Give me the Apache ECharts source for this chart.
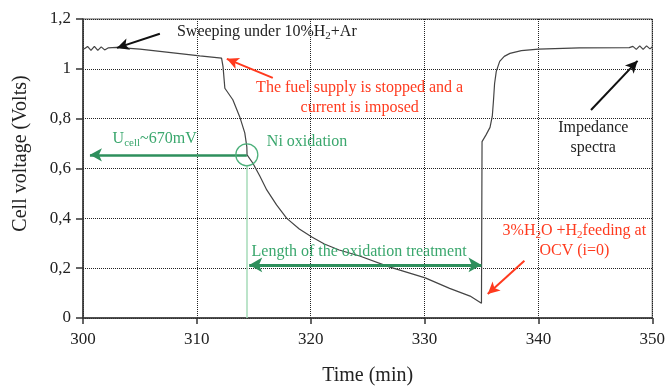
<!DOCTYPE html>
<html><head><meta charset="utf-8">
<script src="https://cdn.jsdelivr.net/npm/echarts@6/dist/echarts.min.js"></script>
<style>html,body{margin:0;padding:0;background:#fff}#c{width:668px;height:391px}</style>
</head><body><div id="c"></div>
<script>
// ---- data ----
const timeMin = [300.1,300.4,300.7,301.0,301.3,301.6,301.9,302.2,302.95,305.0,310.26,312.17,312.3,312.46,313.16,313.77,314.21,314.39,314.41,314.91,315.53,316.14,317.0,317.9,319.0,320.1,321.2,322.5,324.3,326.9,330.06,332.2,334.0,335.0,335.05,335.4,335.75,335.95,336.05,336.15,336.3,336.6,337.0,337.5,338.5,340.0,343.6,347.98,348.3,348.6,348.9,349.2,349.5,349.8,350.0];
const cellVoltage = [1.080,1.090,1.074,1.090,1.074,1.088,1.076,1.084,1.086,1.079,1.052,1.043,1.009,0.922,0.876,0.807,0.743,0.687,0.655,0.622,0.570,0.514,0.454,0.400,0.357,0.325,0.297,0.273,0.249,0.205,0.161,0.119,0.088,0.059,0.708,0.735,0.765,0.810,0.870,0.940,0.990,1.030,1.050,1.062,1.073,1.079,1.084,1.085,1.090,1.078,1.092,1.078,1.092,1.080,1.088];
const xTicks = [300,310,320,330,340,350];
const yTicks = [0,0.2,0.4,0.6,0.8,1.0,1.2];
const xTitle = 'Time (min)';
const yTitle = 'Cell voltage (Volts)';

// annotation anchors (data coordinates)
const arrowSweep = [[306.75,1.141],[302.98,1.084]];
const arrowFuel = [[316.67,0.964],[312.63,1.040]];
const arrowUcell = [[314.39,0.655],[300.61,0.655]];
const arrowLength = [[314.6,0.213],[335.0,0.213]];
const arrowFeed = [[338.77,0.230],[335.55,0.096]];
const arrowImp = [[344.62,0.835],[348.71,1.032]];
const niLine = [[314.39,0],[314.39,0.615]];
const niCircle = [314.39,0.655];
const txtSweep = [308.25,1.149];
const txtFuel = [324.3,0.884];
const txtUcell = [302.6,0.718];
const txtNi = [316.15,0.709];
const txtLength = [324.25,0.265];
const txtFeed = [343.16,0.309];
const txtImp = [344.82,0.723];

const FONT = "'Liberation Serif','Times New Roman',serif";
const RED = '#ff3a1e', GREEN_T = '#3aa76d', GREEN_A = '#2e8f5c', BLACK = '#222';

const chart = echarts.init(document.getElementById('c'));
const series = timeMin.map((t,i)=>[t,cellVoltage[i]]);

function arr(p, color, width, s0, s1, size) {
  return [
    {coord:p[0], symbol:s0, symbolSize:size, lineStyle:{color:color,width:width,type:'solid'}},
    {coord:p[1], symbol:s1, symbolSize:size}
  ];
}

chart.setOption({
  animation:false,
  grid:{left:83,right:15,top:19,bottom:73,show:true,borderColor:'#555',borderWidth:1},
  xAxis:{type:'value',min:xTicks[0],max:xTicks[xTicks.length-1],interval:10,
    name:xTitle,nameLocation:'middle',nameGap:48,
    nameTextStyle:{fontFamily:FONT,fontSize:20,color:BLACK},
    axisLine:{lineStyle:{color:'#333',width:1.5}},
    axisTick:{length:6,lineStyle:{color:'#333',width:1.5}},
    axisLabel:{fontFamily:FONT,fontSize:17,color:BLACK,margin:13},
    splitLine:{show:true,lineStyle:{type:[1,1],color:'#222',width:1}}},
  yAxis:{type:'value',min:yTicks[0],max:yTicks[yTicks.length-1],interval:0.2,
    name:yTitle,nameLocation:'middle',nameGap:52,
    nameTextStyle:{fontFamily:FONT,fontSize:20,color:BLACK,padding:[0,0,0,30]},
    axisLine:{show:true,lineStyle:{color:'#333',width:1.5}},
    axisTick:{show:true,length:7,lineStyle:{color:'#333',width:1.5}},
    axisLabel:{fontFamily:FONT,fontSize:17,color:BLACK,margin:12,
      formatter:v=>String(+v.toFixed(1)).replace('.',',')},
    splitLine:{show:true,lineStyle:{type:[1,1],color:'#222',width:1}}},
  series:[{type:'line',data:series,showSymbol:false,symbol:'none',
    lineStyle:{color:'#444',width:1.2},
    markLine:{silent:true,animation:false,label:{show:false},
      data:[
        arr(niLine,'#a6dbb8',1.5,'none','none',0),
        arr(arrowSweep,'#111',2,'none','arrow',[9,12]),
        arr(arrowFuel,RED,2,'none','arrow',[9,12]),
        arr(arrowUcell,GREEN_A,2.5,'none','arrow',[10,12]),
        arr(arrowLength,GREEN_A,3,'arrow','arrow',[11,13]),
        arr(arrowFeed,RED,2,'none','arrow',[9,12]),
        arr(arrowImp,'#111',2,'none','arrow',[9,12])
      ]}
  }]
});

function px(p){return chart.convertToPixel({gridIndex:0},p);}
const sub = {fontSize:11,fontFamily:FONT,verticalAlign:'bottom',lineHeight:20};
function txt(p, text, color, align, size){
  const q = px(p);
  return {type:'text',x:q[0],y:q[1],silent:true,z:100,
    style:{text:text,fill:color,fontFamily:FONT,fontSize:size||16,align:align,verticalAlign:'middle',lineHeight:20,
      rich:{s:Object.assign({fill:color},sub),n:{fill:color,fontFamily:FONT,fontSize:size||16,lineHeight:20}}}};
}
const c = px(niCircle);
chart.setOption({graphic:[
  {type:'circle',shape:{cx:c[0],cy:c[1],r:11},style:{fill:'none',stroke:'#4cb07a',lineWidth:1.3},z:90,silent:true},
  txt(txtSweep,'{n|Sweeping under 10%H}{s|2}{n|+Ar}',BLACK,'left'),
  txt(txtFuel,'The fuel supply is stopped and a\ncurrent is imposed',RED,'center'),
  txt(txtUcell,'{n|U}{s|cell}{n|~670mV}',GREEN_T,'left'),
  txt(txtNi,'Ni oxidation',GREEN_T,'left'),
  txt(txtLength,'Length of the oxidation treatment',GREEN_T,'center'),
  txt(txtFeed,'{n|3%H}{s|2}{n|O +H}{s|2}{n|feeding at}\n{n|OCV (i=0)}',RED,'center'),
  txt(txtImp,'Impedance\nspectra',BLACK,'center')
]});
</script></body></html>
